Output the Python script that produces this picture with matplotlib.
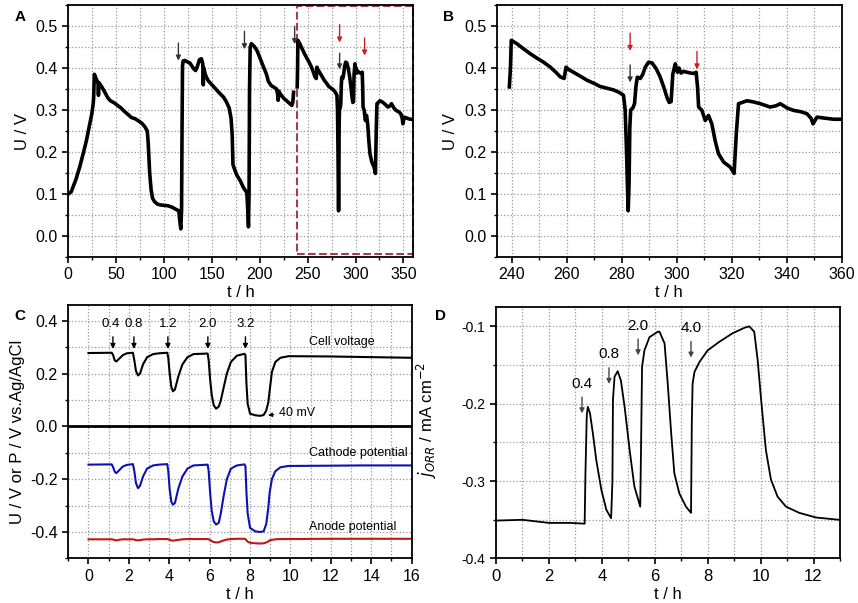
import matplotlib
matplotlib.use("Agg")
import matplotlib.pyplot as plt
from matplotlib.ticker import MultipleLocator
from matplotlib.patches import Rectangle

plt.rcParams['font.family'] = ['Liberation Sans', 'DejaVu Sans']
plt.rcParams['axes.unicode_minus'] = False

# ---- panel A, first 240 h (cell voltage, V) ----
t_early = [0, 3, 8, 12, 16, 19, 22, 24.5, 26, 26.5, 27.2, 29, 31, 31.5, 32, 35, 38, 41, 44, 48,
           52, 55, 58, 62, 66, 70, 74, 77, 80, 82.5, 83.5, 85, 86.5, 88, 90, 93, 96, 100, 104, 108,
           112, 115.5, 116.5, 117.5, 118.3, 118.8, 119.3, 120, 122, 124, 127, 129, 131, 133, 135, 137,
           139, 140.5, 141, 141.6, 143, 146, 150, 154, 158, 162, 165, 168, 170, 171.2, 172, 173.5,
           176, 179.5, 183, 186.5, 187.5, 188.2, 188.8, 189.3, 190, 191.2, 194, 197, 200, 204, 207,
           209, 212, 215, 217.5, 218.5, 219.2, 220, 221.5, 225, 229, 233.5, 234.5, 235.3]
u_early = [0.100, 0.105, 0.135, 0.165, 0.200, 0.228, 0.262, 0.290, 0.315, 0.330, 0.385, 0.375, 0.365,
           0.335, 0.365, 0.355, 0.343, 0.330, 0.322, 0.317, 0.310, 0.305, 0.298, 0.290, 0.282, 0.279,
           0.273, 0.268, 0.260, 0.250, 0.220, 0.150, 0.110, 0.090, 0.082, 0.076, 0.074, 0.073, 0.072,
           0.069, 0.064, 0.060, 0.035, 0.017, 0.060, 0.250, 0.405, 0.417, 0.418, 0.415, 0.412, 0.405,
           0.398, 0.394, 0.405, 0.420, 0.422, 0.410, 0.360, 0.400, 0.385, 0.370, 0.360, 0.350, 0.340,
           0.331, 0.320, 0.305, 0.280, 0.240, 0.170, 0.160, 0.145, 0.132, 0.115, 0.103, 0.060, 0.022,
           0.100, 0.350, 0.450, 0.458, 0.452, 0.442, 0.425, 0.402, 0.385, 0.368, 0.358, 0.354, 0.350,
           0.340, 0.323, 0.345, 0.338, 0.328, 0.320, 0.311, 0.318, 0.342]

# ---- 240-360 h (panel B, also end of panel A) ----
t_late = [239.1, 239.5, 239.8, 241.8, 244, 246.7, 249, 251.5, 254, 256, 257.6, 259, 259.7, 261, 262.4,
          265, 267.3, 270, 272.1, 274.5, 276.9, 279, 280.6, 281.2, 281.7, 282.1, 282.3, 282.6, 282.9,
          283.2, 284, 284.6, 285.1, 285.6, 286.7, 287.6, 288.5, 289.7, 291, 292.5, 293.9, 295.2, 296.4,
          297.2, 297.9, 298.5, 299.4, 300.2, 300.8, 301.5, 302.5, 303.6, 305, 306.1, 307, 307.5, 307.9,
          309.1, 310.3, 311.5, 312.7, 313.9, 315.1, 317, 319.4, 320.8, 321.6, 322.4, 325.5, 328, 330.3,
          333.9, 336, 337.6, 340, 342.4, 345, 347.3, 348.8, 349.5, 350.9, 354.5, 357, 360]
u_late = [0.355, 0.400, 0.466, 0.458, 0.447, 0.434, 0.424, 0.414, 0.402, 0.390, 0.379, 0.375, 0.402,
          0.395, 0.390, 0.380, 0.371, 0.363, 0.356, 0.352, 0.348, 0.342, 0.335, 0.300, 0.200, 0.100,
          0.060, 0.120, 0.260, 0.300, 0.305, 0.315, 0.355, 0.378, 0.375, 0.385, 0.402, 0.414, 0.412,
          0.398, 0.379, 0.355, 0.330, 0.318, 0.320, 0.385, 0.410, 0.390, 0.400, 0.388, 0.392, 0.390,
          0.388, 0.387, 0.390, 0.355, 0.307, 0.299, 0.275, 0.287, 0.267, 0.227, 0.196, 0.176, 0.164,
          0.149, 0.244, 0.315, 0.322, 0.319, 0.315, 0.307, 0.310, 0.315, 0.305, 0.299, 0.296, 0.291,
          0.280, 0.267, 0.283, 0.280, 0.278, 0.278]

# ---- panel C ----
t_c = [0, 1.15, 1.22, 1.3, 1.38, 1.5, 1.7, 1.9, 2.2, 2.27, 2.35, 2.45, 2.55, 2.7, 2.9, 3.2, 3.5,
       3.9, 3.95, 4.02, 4.1, 4.18, 4.28, 4.45, 4.65, 4.9, 5.2, 5.9, 5.95, 6.02, 6.1, 6.2, 6.32, 6.45,
       6.55, 6.7, 6.85, 7.05, 7.35, 7.72, 7.77, 7.82, 7.88, 8.0, 8.26, 8.5, 8.67, 8.8, 8.9, 8.97,
       9.08, 9.25, 9.5, 9.9, 11.9, 13.5, 16]
cell_v = [0.278, 0.279, 0.270, 0.250, 0.246, 0.255, 0.270, 0.277,
          0.279, 0.250, 0.210, 0.193, 0.200, 0.235, 0.262, 0.274, 0.277,
          0.279, 0.260, 0.200, 0.150, 0.133, 0.140, 0.190, 0.235, 0.262, 0.274,
          0.276, 0.250, 0.180, 0.120, 0.080, 0.067, 0.075, 0.098, 0.150, 0.200, 0.244, 0.268,
          0.275, 0.270, 0.162, 0.086, 0.048, 0.042, 0.040, 0.043, 0.060, 0.090, 0.136, 0.206,
          0.244, 0.260, 0.266, 0.265, 0.263, 0.260]
cathode_p = [-0.145, -0.144, -0.155, -0.172, -0.177, -0.168, -0.152, -0.146,
             -0.143, -0.170, -0.215, -0.234, -0.225, -0.190, -0.160, -0.148, -0.145,
             -0.143, -0.170, -0.240, -0.285, -0.297, -0.290, -0.235, -0.190, -0.160, -0.148,
             -0.145, -0.170, -0.250, -0.320, -0.360, -0.372, -0.365, -0.330, -0.260, -0.200, -0.160, -0.148,
             -0.144, -0.150, -0.250, -0.330, -0.385, -0.398, -0.400, -0.398, -0.370, -0.310, -0.250,
             -0.200, -0.170, -0.155, -0.150, -0.149, -0.148, -0.148]
anode_p = [-0.428, -0.428, -0.429, -0.431, -0.432, -0.430, -0.428, -0.428,
           -0.428, -0.429, -0.431, -0.432, -0.431, -0.429, -0.428, -0.428, -0.427,
           -0.427, -0.428, -0.430, -0.432, -0.433, -0.432, -0.430, -0.428, -0.427, -0.427,
           -0.427, -0.428, -0.431, -0.435, -0.438, -0.440, -0.439, -0.436, -0.432, -0.429, -0.427, -0.426,
           -0.426, -0.427, -0.432, -0.437, -0.441, -0.443, -0.444, -0.443, -0.440, -0.436, -0.432,
           -0.430, -0.428, -0.427, -0.427, -0.426, -0.426, -0.426]
c_doses = ['0.4', '0.8', '1.2', '2.0', '3.2']
c_dose_t = [1.21, 2.25, 3.93, 5.91, 7.77]

# ---- panel D ----
t_d = [0, 1, 2, 2.8, 3.35, 3.38, 3.43, 3.47, 3.55, 3.66, 3.79, 3.98, 4.17, 4.35, 4.40, 4.42, 4.48,
       4.6, 4.72, 4.86, 5.05, 5.23, 5.45, 5.48, 5.52, 5.61, 5.8, 6.11, 6.18, 6.37, 6.49, 6.62, 6.74,
       6.93, 7.18, 7.37, 7.4, 7.43, 7.5, 7.69, 8.0, 8.44, 8.94, 9.38, 9.57, 9.76, 9.89, 10.02, 10.2,
       10.39, 10.64, 10.96, 11.46, 12.09, 12.97]
j_orr = [-0.351, -0.350, -0.354, -0.354, -0.355, -0.290, -0.215, -0.204, -0.212, -0.238, -0.273,
         -0.311, -0.337, -0.348, -0.300, -0.195, -0.165, -0.158, -0.170, -0.204, -0.260, -0.307,
         -0.333, -0.260, -0.152, -0.131, -0.114, -0.107, -0.107, -0.122, -0.174, -0.238, -0.290,
         -0.316, -0.333, -0.341, -0.225, -0.174, -0.159, -0.146, -0.131, -0.120, -0.109, -0.102,
         -0.100, -0.107, -0.144, -0.195, -0.260, -0.298, -0.320, -0.333, -0.341, -0.347, -0.350]
d_doses = ['0.4', '0.8', '2.0', '4.0']
d_dose_t = [3.25, 4.27, 5.37, 7.37]
d_dose_j = [-0.188, -0.150, -0.113, -0.116]


def style(ax, xmaj, xmin, ymaj, ymin):
    ax.xaxis.set_major_locator(MultipleLocator(xmaj))
    ax.xaxis.set_minor_locator(MultipleLocator(xmin))
    ax.yaxis.set_major_locator(MultipleLocator(ymaj))
    ax.yaxis.set_minor_locator(MultipleLocator(ymin))
    ax.grid(which='both', color='#999999', ls=':', lw=0.9)
    ax.set_axisbelow(True)
    for s in ax.spines.values():
        s.set_linewidth(1.3)
    ax.tick_params(which='major', direction='out', length=4, width=1.2, labelsize=11.5)
    ax.tick_params(which='minor', direction='out', length=2.5, width=1.0)


def arrow(ax, x, y0, y1, color):
    ax.annotate('', xy=(x, y1), xytext=(x, y0),
                arrowprops=dict(arrowstyle='-|>', color=color, lw=1.0, mutation_scale=7))


fig = plt.figure(figsize=(8.58, 6.03), dpi=100)

# A
axA = fig.add_axes([0.0796, 0.5738, 0.4017, 0.4179])
axA.plot(t_early, u_early, color='black', lw=2.6)
axA.plot(t_late, u_late, color='black', lw=2.6)
axA.set_xlim(0, 360)
axA.set_ylim(-0.05, 0.55)
style(axA, 50, 25, 0.1, 0.05)
axA.set_xlabel('t / h', fontsize=12, labelpad=2)
axA.set_ylabel('U / V', fontsize=12)
axA.add_patch(Rectangle((238.7, -0.043), 121, 0.59, fill=False, ec='#a0404a', ls='--', lw=1.5,
                        clip_on=False))
for x, y0, y1, c in [(115, 0.466, 0.411, '#333333'), (184, 0.494, 0.438, '#333333'),
                     (236.4, 0.506, 0.45, '#333333'), (283.4, 0.51, 0.454, '#cc2020'),
                     (283.4, 0.442, 0.39, '#333333'), (309.5, 0.478, 0.423, '#cc2020')]:
    arrow(axA, x, y0, y1, c)
fig.text(0.017, 0.965, 'A', fontsize=11, fontweight='bold')

# B
axB = fig.add_axes([0.5789, 0.5738, 0.4024, 0.4179])
axB.plot(t_late, u_late, color='black', lw=2.6)
axB.set_xlim(234.5, 360)
axB.set_ylim(-0.05, 0.55)
style(axB, 20, 10, 0.1, 0.05)
axB.set_xlabel('t / h', fontsize=12, labelpad=2)
axB.set_ylabel('U / V', fontsize=12)
for x, y0, y1, c in [(283, 0.49, 0.434, '#cc2020'), (283, 0.414, 0.359, '#333333'),
                     (307.3, 0.446, 0.39, '#cc2020')]:
    arrow(axB, x, y0, y1, c)
fig.text(0.516, 0.965, 'B', fontsize=11, fontweight='bold')

# C
axC = fig.add_axes([0.0796, 0.0741, 0.4002, 0.4201])
axC.plot(t_c, cell_v, color='black', lw=1.5)
axC.plot(t_c, cathode_p, color='#1010b0', lw=1.5)
axC.plot(t_c, anode_p, color='#c01818', lw=1.5)
axC.axhline(0, color='black', lw=2)
axC.set_xlim(-1, 16)
axC.set_ylim(-0.5, 0.46)
style(axC, 2, 1, 0.2, 0.1)
axC.set_xlabel('t / h', fontsize=12, labelpad=2)
axC.set_ylabel('U / V or P / V vs.Ag/AgCl', fontsize=12)
for lab, t in zip(c_doses, c_dose_t):
    axC.text(t - 0.1 if lab == '0.4' else t, 0.366, lab, fontsize=9.5, ha='center', va='bottom')
    arrow(axC, t, 0.35, 0.283, 'black')
axC.text(10.9, 0.31, 'Cell voltage', fontsize=9)
axC.text(10.9, -0.112, 'Cathode potential', fontsize=9)
axC.text(10.9, -0.392, 'Anode potential', fontsize=9)
axC.annotate('40 mV', xy=(8.75, 0.042), xytext=(9.45, 0.05), fontsize=9, va='center',
             arrowprops=dict(arrowstyle='-|>', color='black', lw=0.8, mutation_scale=6))
fig.text(0.017, 0.47, 'C', fontsize=11, fontweight='bold')

# D
axD = fig.add_axes([0.5781, 0.0738, 0.4009, 0.4171])
axD.plot(t_d, j_orr, color='black', lw=1.3)
axD.set_xlim(0, 13)
axD.set_ylim(-0.4, -0.075)
style(axD, 2, 1, 0.1, 0.05)
axD.tick_params(axis='y', labelsize=10)
axD.tick_params(axis='x', labelsize=12)
axD.set_xlabel('t / h', fontsize=12, labelpad=2)
axD.set_ylabel('$j_{ORR}$ / mA cm$^{-2}$', fontsize=12)
axD.yaxis.set_label_coords(-0.165, 0.55)
for lab, t, j in zip(d_doses, d_dose_t, d_dose_j):
    axD.text(t, j + 0.005, lab, fontsize=11, ha='center', va='bottom')
    arrow(axD, t, j, j - 0.028, '#444444')
fig.text(0.507, 0.47, 'D', fontsize=11, fontweight='bold')

fig.savefig('out.png', dpi=100)
